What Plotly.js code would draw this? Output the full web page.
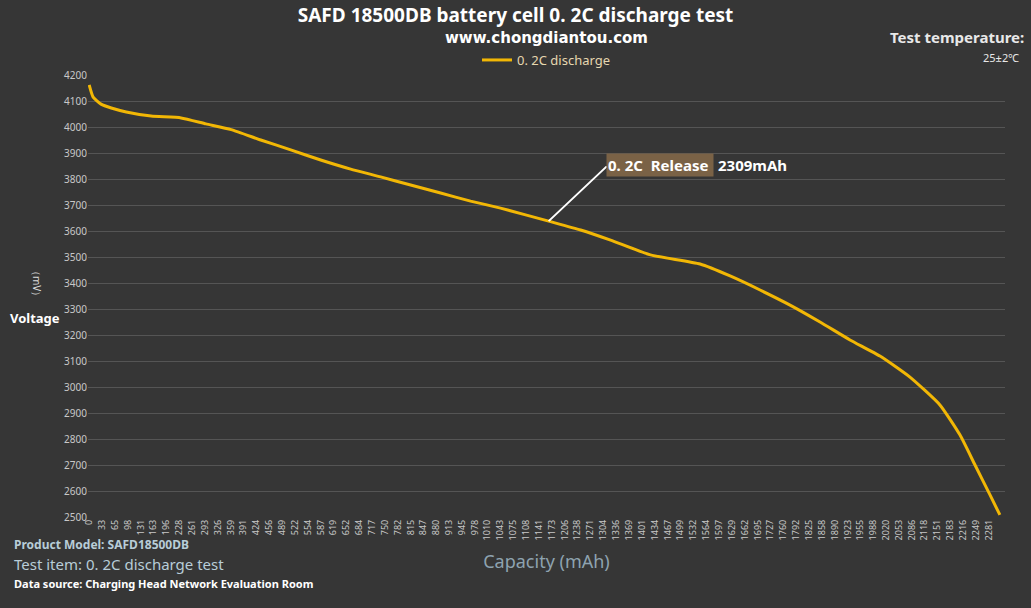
<!DOCTYPE html>
<html><head><meta charset="utf-8">
<script src="https://cdn.plot.ly/plotly-3.0.1.min.js"></script>
<style>html,body{margin:0;padding:0;background:#333;}#c{width:1031px;height:608px;}</style>
</head><body><div id="c"></div>
<script>
const capacity = [0,10,30,56,94,157,233,296,360,435,511,587,663,739,815,891,967,1043,1165,1246,1322,1423,1549,1625,1701,1777,1853,1929,2005,2081,2157,2208,2246,2284,2309];
const voltage = [4162,4115,4088,4073,4058,4042,4035,4012,3990,3950,3912,3873,3838,3808,3777,3746,3715,3688,3638,3604,3565,3508,3473,3427,3373,3315,3250,3181,3119,3038,2931,2815,2700,2585,2508];
const xTicks = [0,33,65,98,131,163,196,228,261,293,326,359,391,424,456,489,522,554,587,619,652,684,717,750,782,815,847,880,913,945,978,1010,1043,1075,1108,1141,1173,1206,1238,1271,1304,1336,1369,1401,1434,1467,1499,1532,1564,1597,1629,1662,1695,1727,1760,1792,1825,1858,1890,1923,1955,1988,2020,2053,2086,2118,2151,2183,2216,2249,2281];
const yTicks = [2500,2600,2700,2800,2900,3000,3100,3200,3300,3400,3500,3600,3700,3800,3900,4000,4100,4200];
const F = "Noto Sans, Open Sans, sans-serif";
const trace = {x:capacity, y:voltage, type:'scatter', mode:'lines', line:{shape:'spline', smoothing:0.5, color:'#f2b705', width:3}, name:'0. 2C discharge'};
const py = p => (517-p)/442;
const px = p => (p-88)/917;
const layout = {
  width:1031, height:608,
  paper_bgcolor:'#363636', plot_bgcolor:'rgba(0,0,0,0)',
  margin:{l:88, r:26, t:75, b:91},
  showlegend:true,
  legend:{orientation:'h', x:0.5, xanchor:'center', y:1.0, yanchor:'bottom', font:{color:'#e6d7b0', size:13, family:F}, bgcolor:'rgba(0,0,0,0)'},
  title:{text:'<b>SAFD 18500DB battery cell 0. 2C discharge test</b>', x:0.5, y:0.985, yanchor:'top', font:{color:'#ffffff', size:19, family:F}},
  xaxis:{range:[-3,2322], tickmode:'array', tickvals:xTicks, ticktext:xTicks.map(String), tickangle:-90, tickfont:{color:'#c8c8c8', size:9, family:F}, showgrid:false, zeroline:false, showline:false,
    title:{text:'Capacity (mAh)', font:{color:'#8ea3b0', size:18, family:F}, standoff:16}},
  yaxis:{range:[2500,4200], tickmode:'array', tickvals:yTicks, tickfont:{color:'#c8c8c8', size:10, family:F}, gridcolor:'#555555', gridwidth:1, zeroline:false, showline:false, ticks:'', ticklen:0},
  annotations:[
    {xref:'paper', yref:'paper', x:0.5, y:py(38), yanchor:'middle', text:'<b>www.chongdiantou.com</b>', showarrow:false, font:{color:'#ffffff', size:15, family:'DejaVu Sans, sans-serif'}},
    {xref:'paper', yref:'paper', x:px(1026), xanchor:'right', y:py(37), yanchor:'middle', text:'<b>Test temperature:</b>', showarrow:false, font:{color:'#e8e8e8', size:15, family:F}},
    {xref:'paper', yref:'paper', x:px(1021), xanchor:'right', y:py(58), yanchor:'middle', text:'25±2℃', showarrow:false, font:{color:'#e8e8e8', size:11, family:F}},
    {x:1165, y:3638, ax:1316, ay:3854, axref:'x', ayref:'y', xref:'x', yref:'y', text:'', showarrow:true, arrowhead:0, arrowcolor:'#ffffff', arrowwidth:2},
    {xref:'paper', yref:'paper', x:px(606), xanchor:'left', y:py(165), yanchor:'middle', text:'<b>0. 2C  Release </b>', showarrow:false, bgcolor:'#7a6246', borderpad:1, font:{color:'#ffffff', size:15, family:F}},
    {xref:'paper', yref:'paper', x:px(716), xanchor:'left', y:py(165), yanchor:'middle', text:'<b>2309mAh</b>', showarrow:false, font:{color:'#ffffff', size:15, family:F}},
    {xref:'paper', yref:'paper', x:px(35), xanchor:'center', y:py(318), text:'<b>Voltage</b>', showarrow:false, font:{color:'#ffffff', size:13, family:F}},
    {xref:'paper', yref:'paper', x:px(37), xanchor:'center', y:py(283), text:'（mV）', textangle:90, showarrow:false, font:{color:'#dddddd', size:10, family:F}},
    {xref:'paper', yref:'paper', x:px(12), xanchor:'left', y:py(555), text:'<b>Product Model: SAFD18500DB</b>', showarrow:false, font:{color:'#b8cdd8', size:12, family:F}},
    {xref:'paper', yref:'paper', x:px(12), xanchor:'left', y:py(576), text:'Test item: 0. 2C discharge test', showarrow:false, font:{color:'#b8cdd8', size:15, family:F}},
    {xref:'paper', yref:'paper', x:px(12), xanchor:'left', y:py(593), text:'<b>Data source: Charging Head Network Evaluation Room</b>', showarrow:false, font:{color:'#ffffff', size:11, family:F}}
  ]
};
Plotly.newPlot('c',[trace],layout,{displayModeBar:false});
</script></body></html>
